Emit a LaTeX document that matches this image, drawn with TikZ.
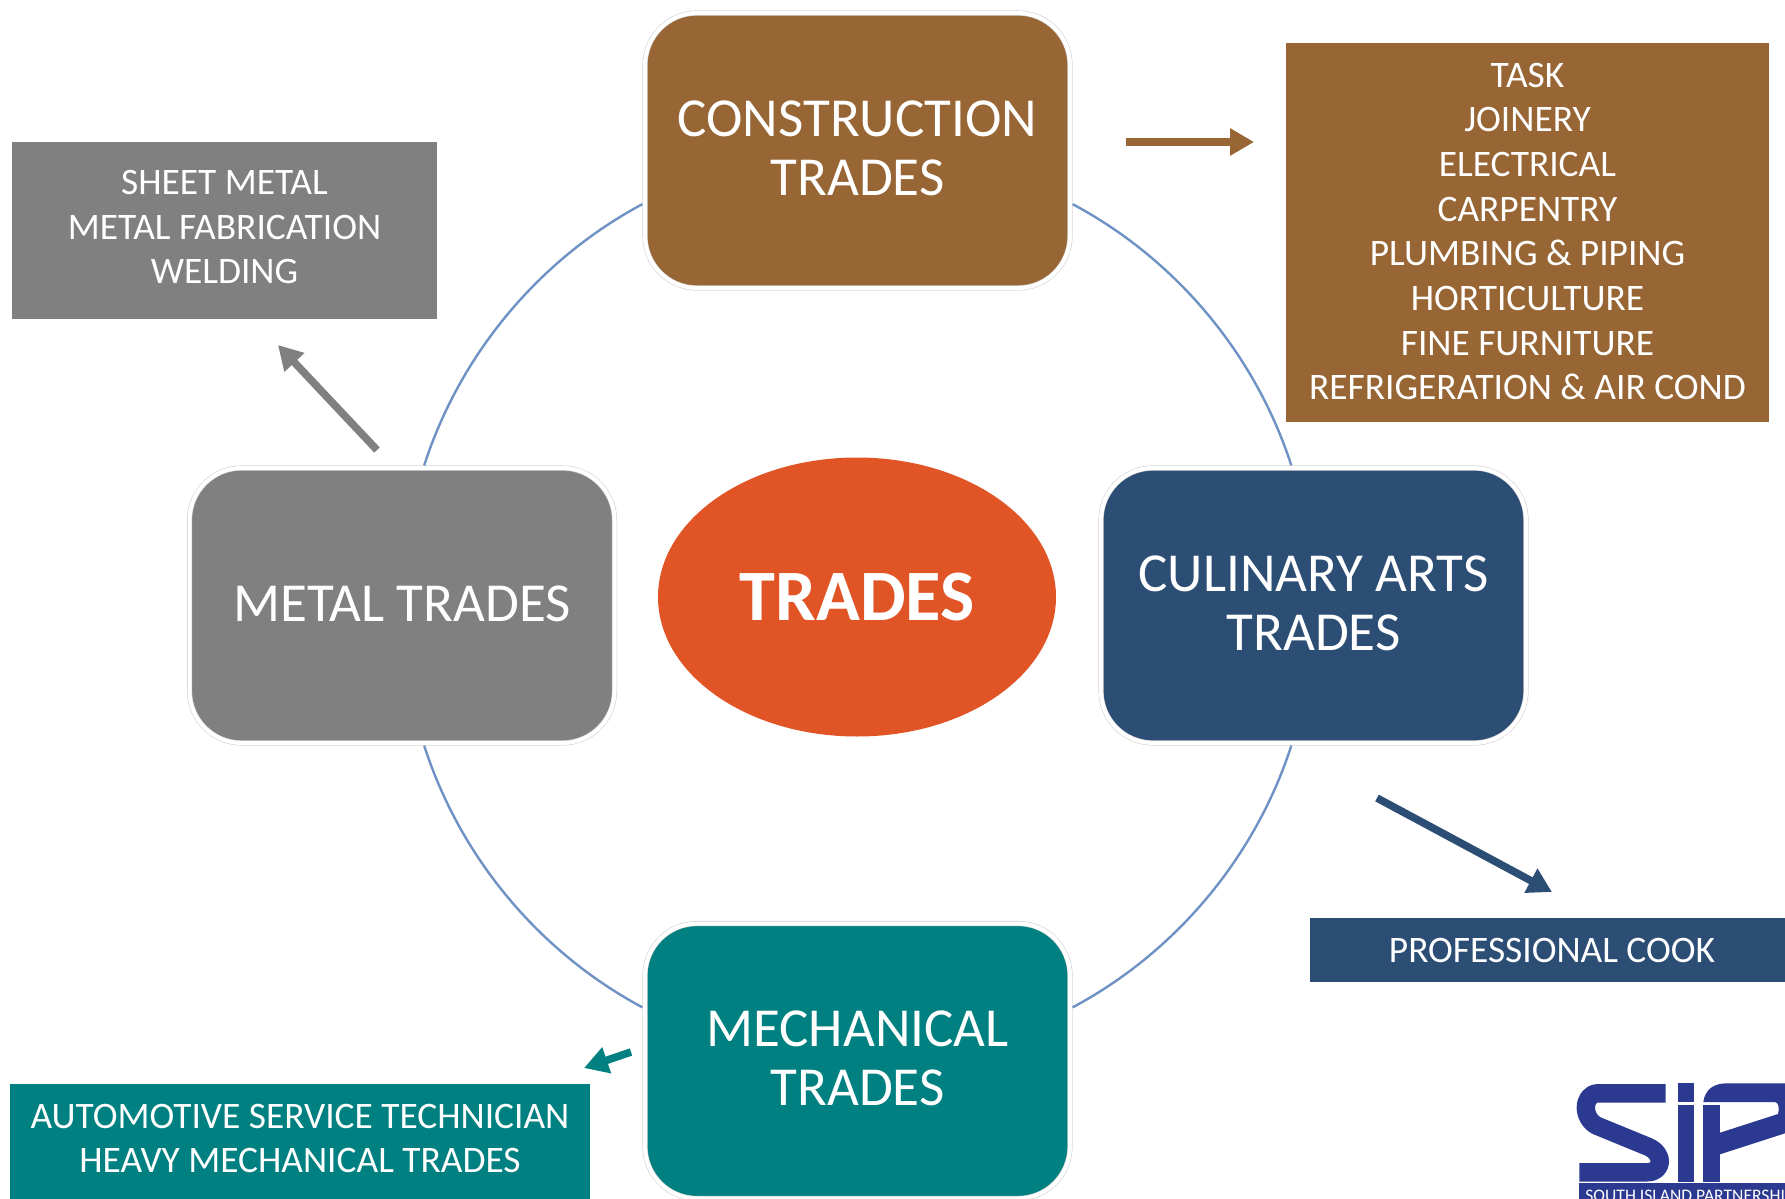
\documentclass[tikz,border=0pt]{standalone}
\usepackage{fontspec}
\setmainfont{Carlito}
\usetikzlibrary{arrows.meta}
\usetikzlibrary{shapes}
\definecolor{brownc}{HTML}{976634}
\definecolor{grayc}{HTML}{808080}
\definecolor{navyc}{HTML}{2C4E75}
\definecolor{tealc}{HTML}{008080}
\definecolor{orangec}{HTML}{E05426}
\definecolor{ringc}{HTML}{6E92C4}
\definecolor{logoc}{HTML}{2B3990}
\tikzset{
  tradebox/.style={draw=gray!35,line width=.3pt,double=white,double distance=2pt,fill=#1,text=white,
    rounded corners=26pt,minimum width=212.5pt,minimum height=137.5pt,inner sep=0pt,outer sep=1.3pt,
    align=center,font=\fontsize{27.5}{29.6}\selectfont},
  infobox/.style={fill=#1,text=white,inner sep=0pt,align=center,font=\fontsize{18.7}{22.35}\selectfont},
  ring/.style={draw=ringc,line width=1.2pt,bend left=22,looseness=.88},
  pointer/.style={draw=#1,line width=3.8pt,-{Triangle[length=12pt,width=13pt,fill=#1]}},
  logoline/.style={draw=logoc,line width=9.2pt,line join=round},
}
\begin{document}
\begin{tikzpicture}[x=0.5pt,y=-0.5pt,line join=bevel,]
\useasboundingbox (0,0) rectangle (1785,1199);
%%
\node (node_construction) at (857.5,150.5) [tradebox=brownc] {CONSTRUCTION\\TRADES\vspace{2.4pt}};
  \node (node_culinary) at (1313.5,605.5) [tradebox=navyc] {CULINARY ARTS\\TRADES\vspace{2.4pt}};
  \node (node_mechanical) at (857.5,1061) [tradebox=tealc] {MECHANICAL\\TRADES\vspace{2.4pt}};
  \node (node_metal) at (402,605.5) [tradebox=grayc] {\raisebox{2.3pt}{METAL TRADES}};
  \node (node_trades) at (857,597) [ellipse,fill=orangec,text=white,minimum width=199pt,minimum height=139.5pt,inner sep=0pt,font=\fontsize{36.2}{40}\selectfont\bfseries] {TRADES};
  \node (node_task) at (1527.5,232.5) [infobox=brownc,minimum width=241.5pt,minimum height=189.5pt] {TASK\\JOINERY\\ELECTRICAL\\CARPENTRY\\PLUMBING \& PIPING\\HORTICULTURE\\FINE FURNITURE\\REFRIGERATION \& AIR COND\vspace{1pt}};
  \node (node_sheet) at (224.5,230.5) [infobox=grayc,minimum width=212.5pt,minimum height=88.5pt] {SHEET METAL\\METAL FABRICATION\\WELDING\vspace{3.4pt}};
  \node (node_cook) at (1552,950) [infobox=navyc,minimum width=242pt,minimum height=32pt] {PROFESSIONAL COOK};
  \node (node_auto) at (300,1141.5) [infobox=tealc,minimum width=290pt,minimum height=57.5pt] {AUTOMOTIVE SERVICE TECHNICIAN\\HEAVY MECHANICAL TRADES\vspace{3pt}};
%
  \draw [ring] (node_construction.-14) to (node_culinary.99);
  \draw [ring] (node_culinary.-99) to (node_mechanical.14);
  \draw [ring] (node_mechanical.166) to (node_metal.-81);
  \draw [ring] (node_metal.81) to (node_construction.-166);
%
  \coordinate (brown_a) at (1126,142);
  \coordinate (brown_b) at (1254,142);
  \coordinate (gray_a) at (377,450);
  \coordinate (gray_b) at (278,345);
  \coordinate (navy_a) at (1377,798);
  \coordinate (navy_b) at (1552,892);
  \coordinate (teal_a) at (631,1052);
  \coordinate (teal_b) at (584,1068);
  \draw [pointer=brownc] (brown_a) -- (brown_b);
  \draw [pointer=grayc] (gray_a) -- (gray_b);
  \draw [pointer=navyc] (navy_a) -- (navy_b);
  \draw [pointer=tealc] (teal_a) -- (teal_b);
%% logo
  \draw [logoline] (1665.7,1093.3) -- (1598,1093.3) .. controls (1582,1093.3) and (1581,1121) .. (1600,1127) -- (1648,1146.7) .. controls (1665,1154) and (1663,1172.3) .. (1647,1172.3) -- (1579.3,1172.3);
  \fill [logoc] (1677.7,1083.3) rectangle (1694.3,1102);
  \fill [logoc] (1677.7,1105.3) rectangle (1694.3,1181.7);
  \fill [logoc] (1703.3,1105.3) rectangle (1720,1181.7);
  \fill [logoc] (1703.3,1102) .. controls (1705,1090) and (1713,1083.3) .. (1727,1083.3) -- (1785,1083.3) -- (1785,1133.3) -- (1720,1154.3) -- (1720,1132.7) -- (1778,1114) .. controls (1780,1108) and (1778,1102) .. (1775,1102) -- cycle;
  \fill [logoc] (1579.3,1183.3) rectangle (1785,1199);
  \begin{scope}
  \clip (1579.3,1183.3) rectangle (1785,1199);
  \node (node_logo) at (1585,1201) [anchor=base west,inner sep=0pt,text=white,font=\fontsize{8.8}{10}\selectfont] {SOUTH ISLAND PARTNERSHIP};
  \end{scope}
%
\end{tikzpicture}
\end{document}
